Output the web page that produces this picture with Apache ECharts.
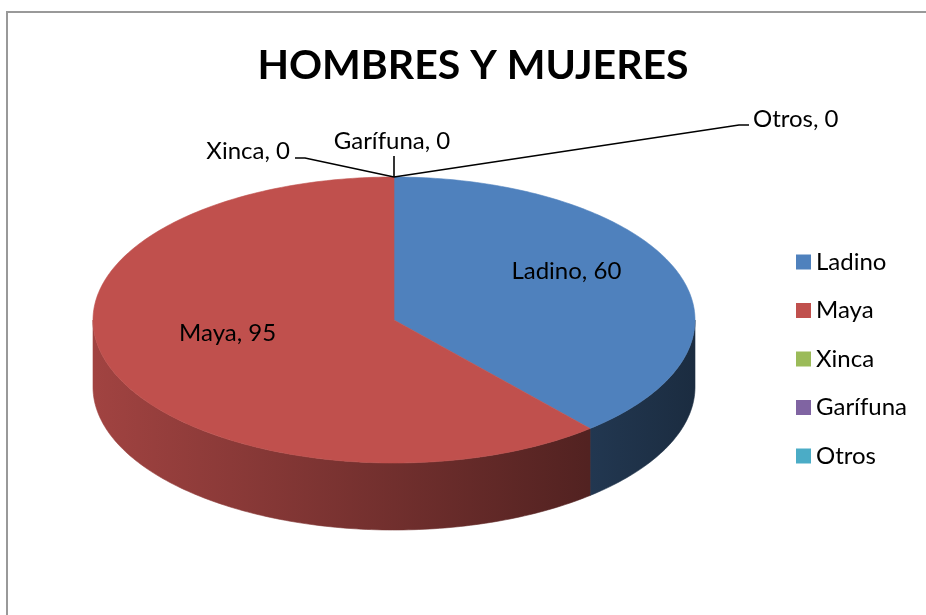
<!DOCTYPE html>
<html>
<head>
<meta charset="utf-8">
<title>HOMBRES Y MUJERES</title>
<script src="https://cdn.jsdelivr.net/npm/echarts@6/dist/echarts.min.js"></script>
<style>
  html, body { margin: 0; padding: 0; background: #fff; }
  #chart { width: 926px; height: 615px; }
</style>
</head>
<body>
<div id="chart"></div>
<script>
// datos
const categories = ['Ladino', 'Maya', 'Xinca', 'Garífuna', 'Otros'];
const values = [60, 95, 0, 0, 0];
const colors = ['#4F81BD', '#C0504D', '#9BBB59', '#8064A2', '#4BACC6'];

// geometria del pastel 3D (elipse + grosor)
const PIE = { cx: 394, cy: 320, rx: 301, ry: 143, depth: 67 };
const FONT = 'Lato, "Open Sans", sans-serif';
const LABEL_SIZE = 24;

// posicion de las etiquetas externas, relativa al punto del borde
const leaderLayout = {
    'Xinca':    { elbow: [-89, -19], end: [-99, -19], text: [-104, -26], align: 'right' },
    'Garífuna': { elbow: null,       end: [0, -21],   text: [-2, -36],    align: 'center' },
    'Otros':    { elbow: [345, -52], end: [355, -52], text: [359, -58],   align: 'left' }
};

const total = values.reduce((a, b) => a + b, 0);
let acc = 0;
const slices = values.map(v => {
    const start = acc / total * 360;
    acc += v;
    return [start, acc / total * 360, v];
});

function pt(deg, dy) {
    const r = deg * Math.PI / 180;
    return [PIE.cx + PIE.rx * Math.sin(r), PIE.cy - PIE.ry * Math.cos(r) + (dy || 0)];
}

function arcPoints(a0, a1, dy) {
    const n = Math.max(2, Math.ceil(Math.abs(a1 - a0)));
    const pts = [];
    for (let i = 0; i <= n; i++) {
        pts.push(pt(a0 + (a1 - a0) * i / n, dy));
    }
    return pts;
}

function shade(hex, f) {
    const n = parseInt(hex.slice(1), 16);
    const r = Math.round(((n >> 16) & 255) * f);
    const g = Math.round(((n >> 8) & 255) * f);
    const b = Math.round((n & 255) * f);
    return 'rgb(' + r + ',' + g + ',' + b + ')';
}

function sideGradient(color) {
    return new echarts.graphic.LinearGradient(PIE.cx - PIE.rx, 0, PIE.cx + PIE.rx, 0, [
        { offset: 0, color: shade(color, 0.84) },
        { offset: 1, color: shade(color, 0.34) }
    ], true);
}

function renderSlice(name, color) {
    return function (params, api) {
        const a0 = api.value(0);
        const a1 = api.value(1);
        const v = api.value(2);
        const children = [];
        const textStyle = { fontFamily: FONT, fontSize: LABEL_SIZE, fill: '#000', verticalAlign: 'middle' };

        if (v > 0) {
            // cara lateral (solo la mitad frontal)
            const s0 = Math.max(a0, 90);
            const s1 = Math.min(a1, 270);
            if (s1 > s0) {
                const pts = arcPoints(s0, s1, 0).concat(arcPoints(s1, s0, PIE.depth));
                const grad = sideGradient(color);
                children.push({
                    type: 'polygon', z2: 1,
                    shape: { points: pts },
                    style: { fill: grad, stroke: grad, lineWidth: 0.6 }
                });
            }
            // cara superior
            children.push({
                type: 'polygon', z2: 2,
                shape: { points: [[PIE.cx, PIE.cy]].concat(arcPoints(a0, a1, 0)) },
                style: { fill: color, stroke: color, lineWidth: 0.6 }
            });
            const mid = (a0 + a1) / 2;
            const r = mid * Math.PI / 180;
            children.push({
                type: 'text', z2: 5,
                x: PIE.cx + 0.6 * PIE.rx * Math.sin(r) + 3,
                y: PIE.cy - 0.62 * PIE.ry * Math.cos(r) - 18,
                style: Object.assign({ text: name + ', ' + v, align: 'center' }, textStyle)
            });
        } else {
            const lay = leaderLayout[name];
            const p = pt(a0, 0);
            const line = [p];
            if (lay.elbow) line.push([p[0] + lay.elbow[0], p[1] + lay.elbow[1]]);
            line.push([p[0] + lay.end[0], p[1] + lay.end[1]]);
            children.push({
                type: 'polyline', z2: 4,
                shape: { points: line },
                style: { stroke: '#000', lineWidth: 1.6, fill: null }
            });
            children.push({
                type: 'text', z2: 5,
                x: p[0] + lay.text[0],
                y: p[1] + lay.text[1],
                style: Object.assign({ text: name + ', ' + v, align: lay.align }, textStyle)
            });
        }
        return { type: 'group', children: children };
    };
}

const chart = echarts.init(document.getElementById('chart'), null, { renderer: 'canvas' });

chart.setOption({
    animation: false,
    title: {
        text: 'HOMBRES Y MUJERES',
        left: 468,
        textAlign: 'center',
        top: 40,
        textStyle: {
            fontFamily: FONT,
            fontSize: 41,
            fontWeight: 'bold',
            color: '#000'
        }
    },
    legend: {
        orient: 'vertical',
        left: 791,
        top: 245,
        icon: 'rect',
        itemWidth: 15,
        itemHeight: 15,
        itemGap: 24.5,
        selectedMode: false,
        data: categories,
        textStyle: {
            fontFamily: FONT,
            fontSize: LABEL_SIZE,
            lineHeight: 24,
            color: '#000'
        }
    },
    graphic: [{
        type: 'rect',
        silent: true,
        shape: { x: 7, y: 12, width: 1000, height: 700 },
        style: { fill: null, stroke: '#999', lineWidth: 2 }
    }],
    series: categories.map((name, i) => ({
        type: 'custom',
        name: name,
        coordinateSystem: 'none',
        silent: true,
        itemStyle: { color: colors[i] },
        data: [slices[i]],
        renderItem: renderSlice(name, colors[i])
    }))
});
</script>
</body>
</html>
